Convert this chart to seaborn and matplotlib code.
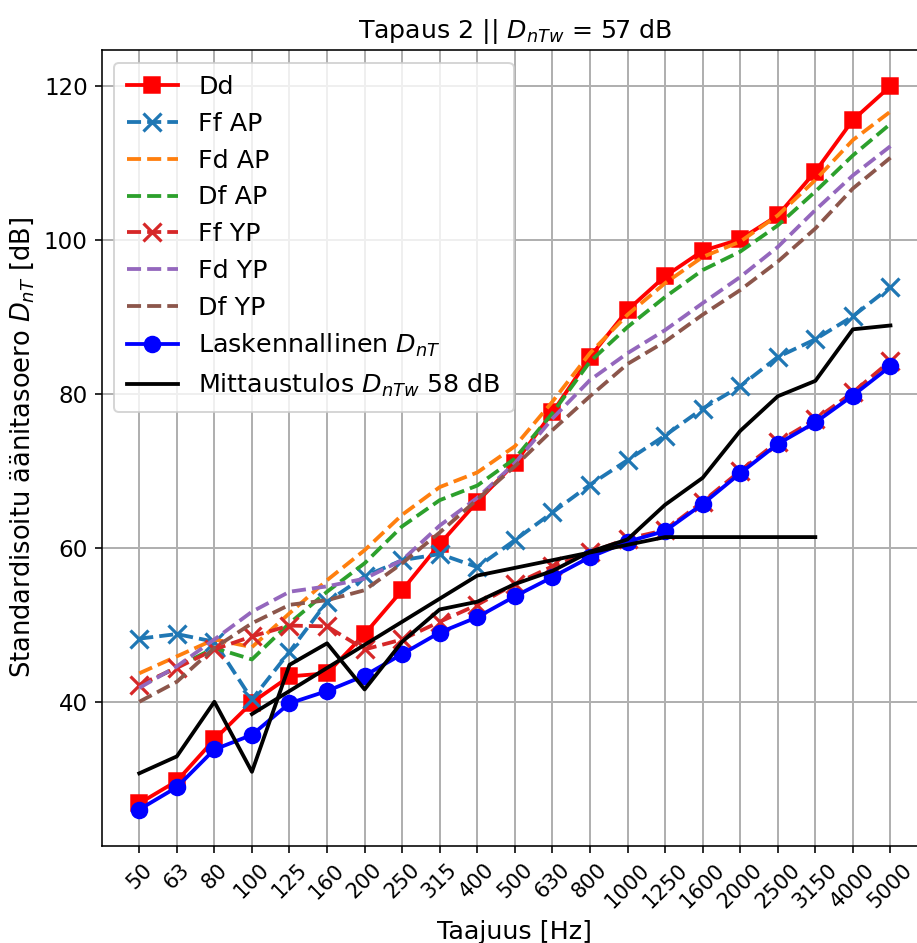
import matplotlib

matplotlib.use("Agg")
import matplotlib.pyplot as plt
import numpy as np
import seaborn as sb

# taajuudet (1/3-oktaavi)
freqs = ["50", "63", "80", "100", "125", "160", "200", "250", "315", "400", "500",
         "630", "800", "1000", "1250", "1600", "2000", "2500", "3150", "4000", "5000"]

dd = [26.8, 29.7, 35.1, 39.9, 43.3, 43.7, 48.8, 54.5, 60.5, 66.0, 71.0,
      77.6, 84.8, 90.9, 95.3, 98.6, 100.1, 103.2, 108.9, 115.6, 120.0]
ff_ap = [48.2, 48.8, 47.8, 40.3, 46.5, 53.0, 56.3, 58.4, 59.2, 57.5, 61.0,
         64.6, 68.2, 71.4, 74.6, 78.1, 81.0, 84.8, 87.1, 90.1, 93.9]
fd_ap = [43.7, 45.9, 48.1, 47.1, 51.5, 55.8, 59.7, 64.3, 67.9, 69.8, 73.2,
         79.0, 85.3, 90.3, 94.4, 97.8, 99.8, 103.2, 107.8, 113.0, 116.7]
df_ap = [42.0, 44.5, 47.0, 45.5, 50.2, 54.3, 58.0, 62.8, 66.2, 68.1, 71.6,
         77.5, 84.2, 88.7, 92.6, 96.1, 98.5, 101.9, 106.3, 111.0, 115.1]
ff_yp = [42.2, 44.4, 46.8, 48.5, 49.9, 49.8, 46.8, 48.1, 50.4, 52.6, 55.3,
         57.6, 59.4, 61.2, 62.3, 66.0, 70.0, 73.8, 76.7, 80.2, 84.3]
fd_yp = [41.8, 44.6, 48.1, 51.7, 54.3, 55.0, 56.0, 58.4, 62.9, 66.5, 71.0,
         76.8, 81.8, 85.3, 88.3, 91.8, 95.2, 99.1, 103.9, 108.4, 112.2]
df_yp = [40.0, 42.6, 47.0, 50.2, 52.6, 53.2, 54.5, 58.0, 62.0, 66.3, 70.6,
         75.3, 79.7, 83.9, 86.8, 90.3, 93.5, 97.2, 101.5, 106.7, 110.7]
laskettu = [26.0, 28.9, 33.8, 35.7, 39.8, 41.4, 43.4, 46.2, 49.0, 51.0, 53.7,
            56.2, 58.8, 60.8, 62.2, 65.7, 69.7, 73.5, 76.3, 79.8, 83.6]
mitattu = [30.7, 32.9, 40.0, 30.9, 44.8, 47.6, 41.6, 47.8, 52.0, 53.0, 55.3,
           57.0, 59.5, 61.1, 65.6, 69.1, 75.2, 79.7, 81.7, 88.4, 88.9]
# siirretty vertailukäyrä 100...3150 Hz
ref_freqs = freqs[3:19]
ref_curve = [38.4, 41.4, 44.4, 47.4, 50.4, 53.4, 56.4, 57.4, 58.4, 59.4, 60.4,
             61.4, 61.4, 61.4, 61.4, 61.4]

if __name__ == "__main__":
    fig = plt.figure(figsize=(917 / 144, 943 / 144), dpi=144)
    ax = fig.add_axes([0.1109, 0.1032, 0.9011, 0.8438])

    x = np.arange(len(freqs))
    xr = np.array([freqs.index(f) for f in ref_freqs])
    lw = 1.9

    sb.lineplot(x=x, y=dd, ax=ax, color="red", lw=lw, marker="s", markersize=8,
                markeredgecolor="red", label="Dd")
    sb.lineplot(x=x, y=ff_ap, ax=ax, color="tab:blue", lw=lw, linestyle="--", marker="x",
                markersize=9, markeredgewidth=1.6, markeredgecolor="tab:blue", label="Ff AP")
    sb.lineplot(x=x, y=fd_ap, ax=ax, color="tab:orange", lw=lw, linestyle="--", label="Fd AP")
    sb.lineplot(x=x, y=df_ap, ax=ax, color="tab:green", lw=lw, linestyle="--", label="Df AP")
    sb.lineplot(x=x, y=ff_yp, ax=ax, color="tab:red", lw=lw, linestyle="--", marker="x",
                markersize=9, markeredgewidth=1.6, markeredgecolor="tab:red", label="Ff YP")
    sb.lineplot(x=x, y=fd_yp, ax=ax, color="tab:purple", lw=lw, linestyle="--", label="Fd YP")
    sb.lineplot(x=x, y=df_yp, ax=ax, color="tab:brown", lw=lw, linestyle="--", label="Df YP")
    sb.lineplot(x=x, y=laskettu, ax=ax, color="blue", lw=lw, marker="o", markersize=8,
                markeredgecolor="blue", label="Laskennallinen $D_{nT}$")
    sb.lineplot(x=x, y=mitattu, ax=ax, color="black", lw=lw,
                label="Mittaustulos $D_{nTw}$ 58 dB")
    sb.lineplot(x=xr, y=ref_curve, ax=ax, color="black", lw=lw)

    ax.set_xticks(x)
    ax.set_xticklabels(freqs, rotation=45)
    ax.tick_params(axis="x", labelsize=10.5)
    ax.tick_params(axis="y", labelsize=11.5)
    ax.grid(True, lw=1.0)
    ax.set_xlabel("Taajuus [Hz]", fontsize=12.7)
    ax.set_ylabel("Standardisoitu äänitasoero $D_{nT}$ [dB]", fontsize=12.9)
    ax.set_title("Tapaus 2 || $D_{nTw}$ = 57 dB", fontsize=12.6)
    ax.legend(loc="upper left", fontsize=12.7, labelspacing=0.5, borderpad=0.5)

    plt.savefig("out.png", dpi=144)
    plt.close()
